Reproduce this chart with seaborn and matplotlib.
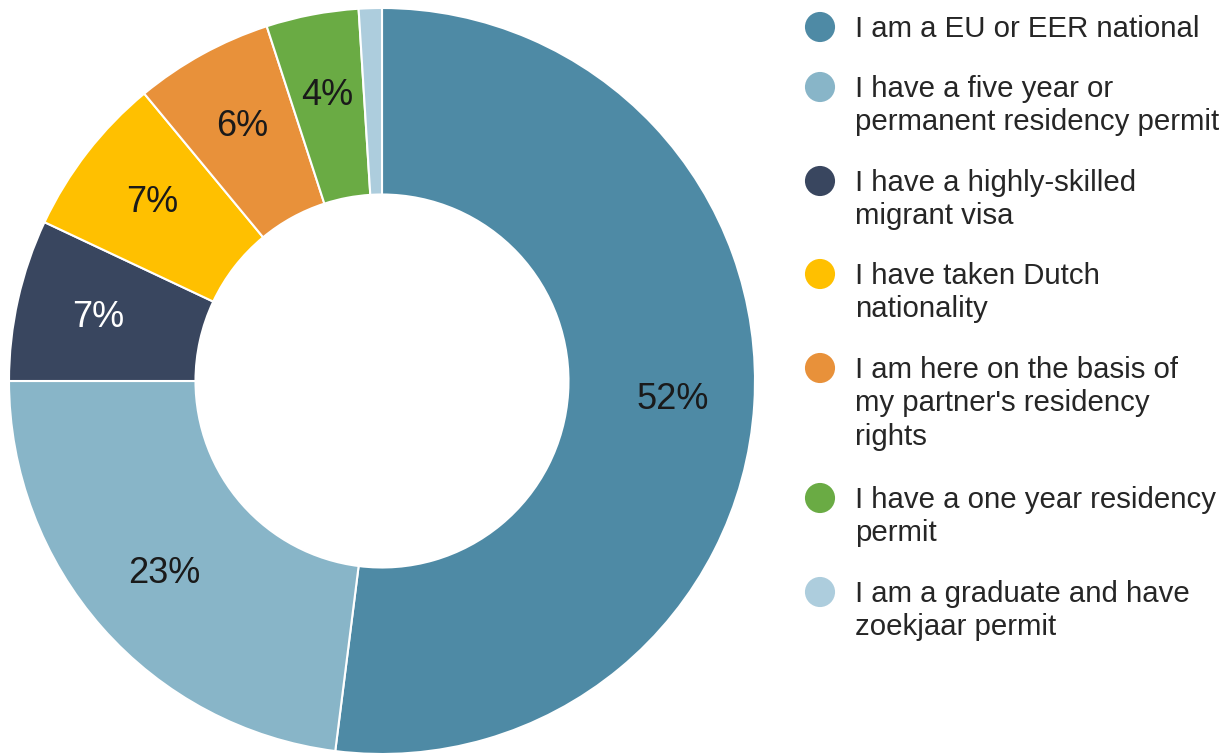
import matplotlib
matplotlib.use("Agg")
import matplotlib.pyplot as plt
import seaborn as sns

categories = [
    "I am a EU or EER national",
    "I have a five year or\npermanent residency permit",
    "I have a highly-skilled\nmigrant visa",
    "I have taken Dutch\nnationality",
    "I am here on the basis of\nmy partner's residency\nrights",
    "I have a one year residency\npermit",
    "I am a graduate and have\nzoekjaar permit",
]
values = [52, 23, 7, 7, 6, 4, 1]
colors = ["#4E8AA5", "#88B5C8", "#39465F", "#FFC000", "#E8913A", "#6AAB44", "#ADCDDD"]
label_colors = ["#1a1a1a", "#1a1a1a", "white", "#1a1a1a", "#1a1a1a", "#1a1a1a", "#1a1a1a"]

sns.set_theme(style="white")
plt.rcParams["font.family"] = ["Liberation Sans", "DejaVu Sans"]

W, H = 1224, 754
fig = plt.figure(figsize=(W / 100, H / 100), dpi=100)

cx, cy, r = 382, 381, 373
ax = fig.add_axes([(cx - r) / W, (H - cy - r) / H, 2 * r / W, 2 * r / H])
wedges, texts, autotexts = ax.pie(
    values,
    colors=colors,
    startangle=90,
    counterclock=False,
    radius=1.0,
    pctdistance=0.78,
    autopct=lambda p: f"{p:.0f}%" if p >= 2 else "",
    wedgeprops=dict(width=0.5, edgecolor="white", linewidth=1.5),
    textprops=dict(fontsize=26),
)
for t, c in zip(autotexts, label_colors):
    t.set_color(c)
ax.set_xlim(-1, 1)
ax.set_ylim(-1, 1)
ax.set_aspect("equal")
ax.axis("off")

# legend drawn in pixel coordinates
lax = fig.add_axes([0, 0, 1, 1])
lax.set_xlim(0, W)
lax.set_ylim(H, 0)
lax.axis("off")
legend_y = [27, 87, 181, 274, 368, 498, 592]
fs = 21.2
for y, lab, c in zip(legend_y, categories, colors):
    lax.scatter([820], [y], s=470, color=c, edgecolors="none")
    lax.text(855, y - 12, lab, fontsize=fs, color="#262626", va="top",
             ha="left", linespacing=1.24)

fig.savefig("out.png", dpi=100, facecolor="white")
